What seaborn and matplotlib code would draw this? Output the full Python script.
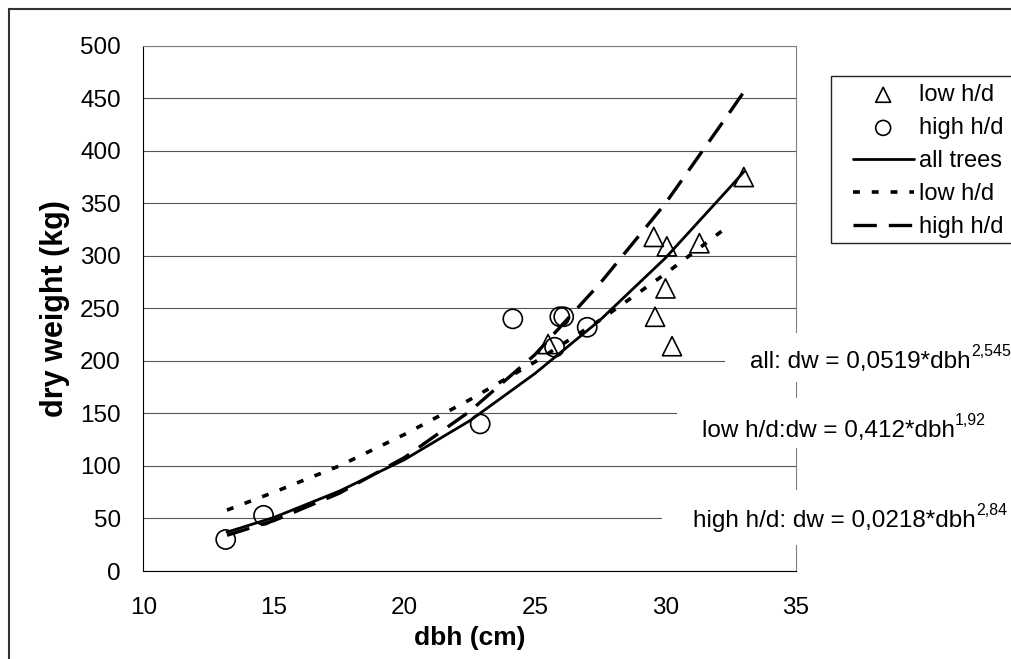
import matplotlib
matplotlib.use("Agg")
import matplotlib.pyplot as plt
import seaborn as sns
from matplotlib.patches import Rectangle
from matplotlib.text import Annotation

# ---------------- data ----------------
low_hd_dbh = [25.5, 29.55, 30.05, 31.3, 30.0, 29.6, 30.25, 33.0]
low_hd_dw = [216, 318, 309, 312, 269, 242, 214, 375]
high_hd_dbh = [13.15, 14.6, 22.9, 24.15, 25.95, 26.1, 25.75, 27.0]
high_hd_dw = [30, 53, 140, 240, 242, 242, 213, 232]

fit_all_dbh = [13.2, 15, 17.5, 20, 22.5, 25, 27.5, 30, 32.5, 33]
fit_all_dw = [37, 51, 76, 106, 143, 188, 239, 298, 366, 380]
fit_low_dbh = [13.2, 15, 17.5, 20, 22.5, 25, 27.5, 30, 32.5]
fit_low_dw = [58, 75, 100, 130, 163, 199, 239, 283, 330]
fit_high_dbh = [13.2, 15, 17.5, 20, 22.5, 25, 27.5, 30, 32.5, 33]
fit_high_dw = [34, 48, 74, 108, 152, 206, 274, 350, 438, 456]

x_ticks = [10, 15, 20, 25, 30, 35]
y_ticks = [0, 50, 100, 150, 200, 250, 300, 350, 400, 450, 500]
legend_labels = ["low h/d", "high h/d", "all trees", "low h/d", "high h/d"]
eq_texts = ["all: dw = 0,0519*dbh", "low h/d:dw = 0,412*dbh", "high h/d: dw = 0,0218*dbh"]
eq_powers = ["2,545", "1,92", "2,84"]

# ---------------- style ----------------
sns.set_style("white")
plt.rcParams["font.family"] = ["Liberation Sans", "DejaVu Sans"]
plt.rcParams["text.color"] = "black"
plt.rcParams["axes.labelcolor"] = "black"
plt.rcParams["xtick.color"] = "black"
plt.rcParams["ytick.color"] = "black"

W, H = 1012, 659
fig = plt.figure(figsize=(W / 100, H / 100), dpi=100)
fig.patch.set_facecolor("white")


def fx(px):
    return px / W


def fy(py):
    return 1 - py / H


ax = fig.add_axes([fx(143.5), fy(571), fx(796) - fx(143.5), fy(45.7) - fy(571)])
ax.set_facecolor("white")

# points
sns.scatterplot(x=low_hd_dbh, y=low_hd_dw, marker="^", s=190, facecolor="none",
                edgecolor="black", linewidth=1.2, ax=ax, label=legend_labels[0], zorder=3)
sns.scatterplot(x=high_hd_dbh, y=high_hd_dw, marker="o", s=190, facecolor="none",
                edgecolor="black", linewidth=1.2, ax=ax, label=legend_labels[1], zorder=3)
# fitted curves
sns.lineplot(x=fit_all_dbh, y=fit_all_dw, color="black", linewidth=2.0, ax=ax,
             label=legend_labels[2], sort=False, estimator=None, zorder=4)
sns.lineplot(x=fit_low_dbh, y=fit_low_dw, color="black", linewidth=2.6,
             linestyle=(0, (1.9, 3.3)), ax=ax, label=legend_labels[3], sort=False,
             estimator=None, zorder=4)
sns.lineplot(x=fit_high_dbh, y=fit_high_dw, color="black", linewidth=2.4,
             linestyle=(0, (7.0, 3.6)), ax=ax, label=legend_labels[4], sort=False,
             estimator=None, zorder=4)

handles, labels = ax.get_legend_handles_labels()
if ax.get_legend() is not None:
    ax.get_legend().remove()

ax.set_xlim(10, 35)
ax.set_ylim(0, 500)
ax.set_xticks(x_ticks)
ax.set_yticks(y_ticks)
ax.set_xticklabels([str(v) for v in x_ticks])
ax.set_yticklabels([str(v) for v in y_ticks])
ax.tick_params(axis="both", direction="out", length=5.8, width=0.8, labelsize=17.5)
ax.tick_params(axis="y", pad=10.5)
ax.tick_params(axis="x", pad=13)

ax.yaxis.grid(True, color="#555555", linewidth=0.8)
ax.xaxis.grid(False)
ax.set_axisbelow(True)
for side in ["left", "bottom"]:
    ax.spines[side].set_color("black")
    ax.spines[side].set_linewidth(0.8)
for side in ["top", "right"]:
    ax.spines[side].set_color("#808080")
    ax.spines[side].set_linewidth(0.8)

ax.set_xlabel("dbh (cm)", fontsize=19, fontweight="bold")
ax.set_ylabel("dry weight (kg)", fontsize=22, fontweight="bold")
ax.yaxis.set_label_coords(-0.113, 0.5)
ax.xaxis.set_label_coords(0.5, -0.105)

# equation labels with white boxes
boxes = [(725, 333, 382), (677, 398, 448), (662, 490, 545)]
text_pos = [(750, 368.3), (701.7, 437), (693, 526.7)]
for (bx, by0, by1), (tx, ty), txt, pw in zip(boxes, text_pos, eq_texts, eq_powers):
    fig.add_artist(Rectangle((fx(bx), fy(by1)), fx(1030) - fx(bx), fy(by0) - fy(by1),
                             transform=fig.transFigure, facecolor="white",
                             edgecolor="none", zorder=1))
    t = fig.text(fx(tx), fy(ty), txt, fontsize=17.5, ha="left", va="baseline", zorder=3)
    fig.add_artist(Annotation(pw, xy=(1.0, 1.0), xycoords=t, xytext=(0.3, 5),
                              textcoords="offset points", ha="left", va="top",
                              fontsize=11.5, zorder=3))

# legend
fig.add_artist(Rectangle((fx(831), fy(243)), fx(1030) - fx(831), fy(75.7) - fy(243),
                         transform=fig.transFigure, facecolor="white",
                         edgecolor="#222222", linewidth=1.0, zorder=2))
fig.legend(handles, labels, loc="upper left", bbox_to_anchor=(fx(852.7), fy(84)),
           frameon=False, borderpad=0, borderaxespad=0, fontsize=17,
           handlelength=2.58, handletextpad=0.22, labelspacing=0.47, markerscale=0.78)

# outer chart frame
fig.add_artist(Rectangle((fx(9), -0.05), 1.2, fy(9) + 0.05, transform=fig.transFigure,
                         fill=False, edgecolor="#333333", linewidth=1.5, zorder=10))

fig.savefig("out.png", dpi=100, facecolor="white")
